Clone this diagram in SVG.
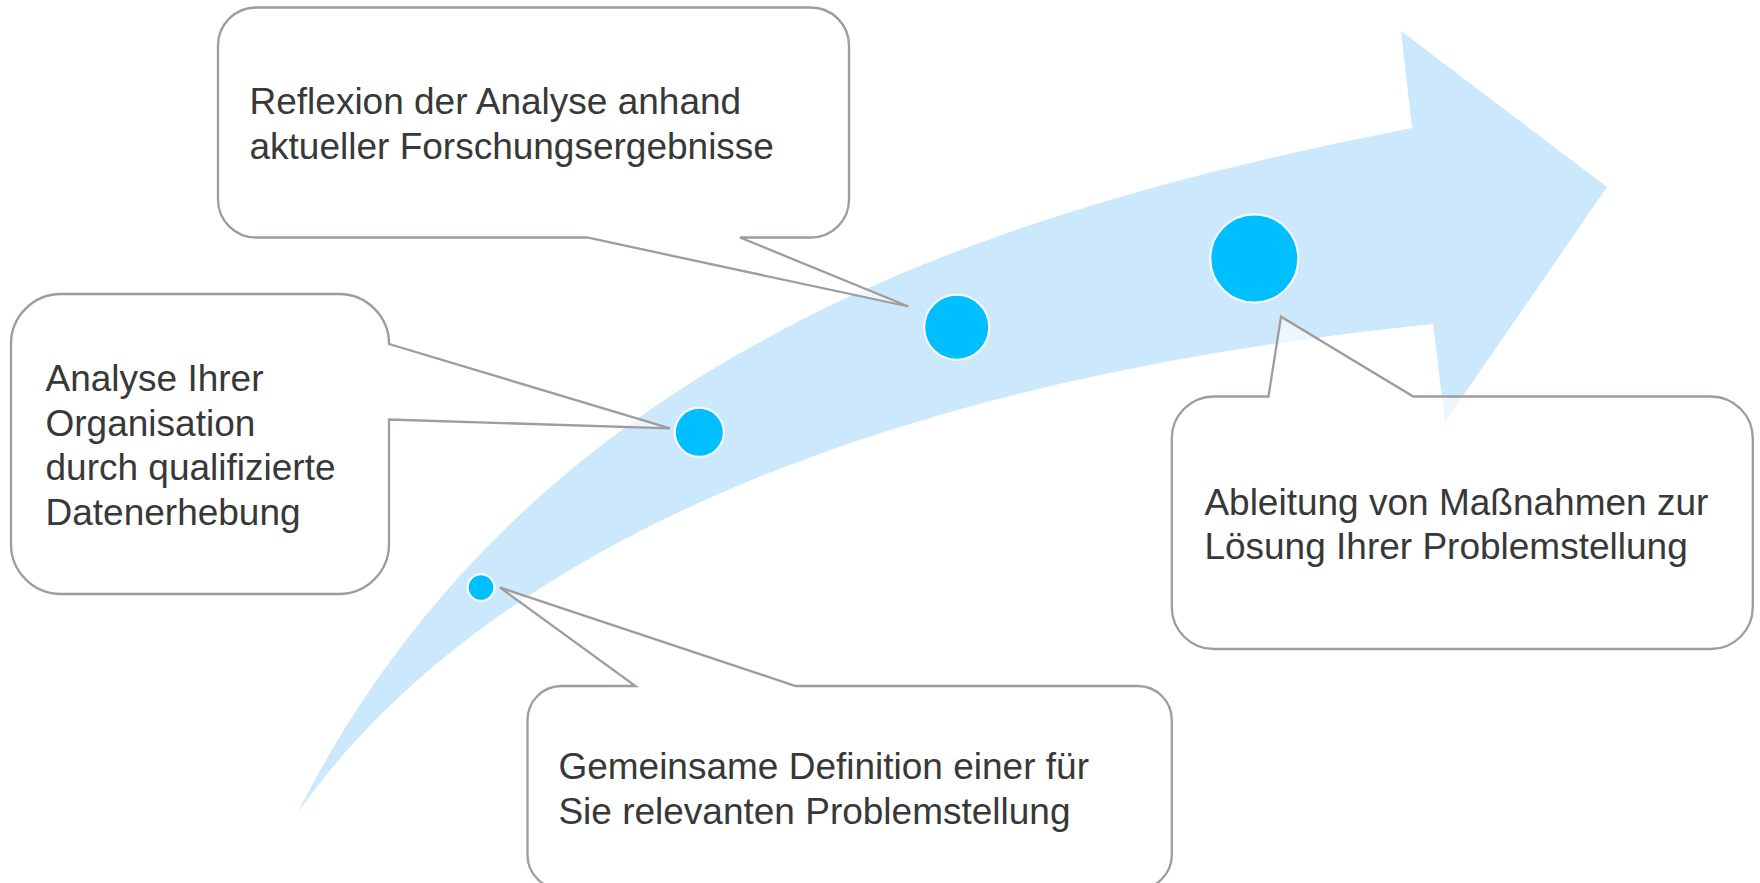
<svg xmlns="http://www.w3.org/2000/svg" width="1760" height="883" viewBox="0 0 1760 883">
<style>
.callout{fill:#ffffff;fill-opacity:0.6;stroke:#a09c9b;stroke-width:2.3;stroke-linejoin:miter}
.dot{fill:#00bfff;stroke:#ffffff;stroke-width:2}
.lbl{font-family:"Liberation Sans",Arial,sans-serif;font-size:37px;fill:#383838}
</style>
<rect width="1760" height="883" fill="#ffffff"/>
<g id="arrow">
<path d="M298,812 C536.5,340.3 1019.6,205.2 1412,128 L1401,31 L1607,187 L1445,422 L1433,324 C888.5,379 489.4,543 298,812 Z" fill="#cce8fc"/>
</g>
<g id="node-reflexion">
<path class="callout" d="M256,7.5 H811 A38,38 0 0 1 849,45.5 V199.5 A38,38 0 0 1 811,237.5 H740 L908.5,306.5 L587,237.5 H256 A38,38 0 0 1 218,199.5 V45.5 A38,38 0 0 1 256,7.5 Z"/>
<text class="lbl" x="249.5" y="114">Reflexion der Analyse anhand</text>
<text class="lbl" x="249.5" y="159">aktueller Forschungsergebnisse</text>
</g>
<g id="node-analyse">
<path class="callout" d="M61,294 H339 A50,50 0 0 1 389,344 L670,428.3 L389,419.5 V544 A50,50 0 0 1 339,594 H61 A50,50 0 0 1 11,544 V344 A50,50 0 0 1 61,294 Z"/>
<text class="lbl" x="45.5" y="391">Analyse Ihrer</text>
<text class="lbl" x="45.5" y="435.5">Organisation</text>
<text class="lbl" x="45.5" y="480.3">durch qualifizierte</text>
<text class="lbl" x="45.5" y="525.3">Datenerhebung</text>
</g>
<g id="node-definition">
<path class="callout" d="M561.5,686 H635.5 L500,587.5 L795.5,686 H1137.8 A34,34 0 0 1 1171.8,720 V855 A34,34 0 0 1 1137.8,889 H561.5 A34,34 0 0 1 527.5,855 V720 A34,34 0 0 1 561.5,686 Z"/>
<text class="lbl" x="558.4" y="779">Gemeinsame Definition einer für</text>
<text class="lbl" x="558.4" y="824">Sie relevanten Problemstellung</text>
</g>
<g id="node-ableitung">
<path class="callout" d="M1213.8,396.5 H1268.5 L1281,316.7 L1413.3,396.5 H1710.8 A42,42 0 0 1 1752.8,438.5 V607 A42,42 0 0 1 1710.8,649 H1213.8 A42,42 0 0 1 1171.8,607 V438.5 A42,42 0 0 1 1213.8,396.5 Z"/>
<text class="lbl" x="1204.4" y="515.3">Ableitung von Maßnahmen zur</text>
<text class="lbl" x="1204.4" y="559.3">Lösung Ihrer Problemstellung</text>
</g>
<g id="milestones">
<circle id="dot-1" class="dot" cx="481" cy="587.5" r="13.3"/>
<circle id="dot-2" class="dot" cx="699.3" cy="432.3" r="24.5"/>
<circle id="dot-3" class="dot" cx="956.7" cy="327.3" r="32.5"/>
<circle id="dot-4" class="dot" cx="1254.3" cy="258.5" r="44"/>
</g>
</svg>
